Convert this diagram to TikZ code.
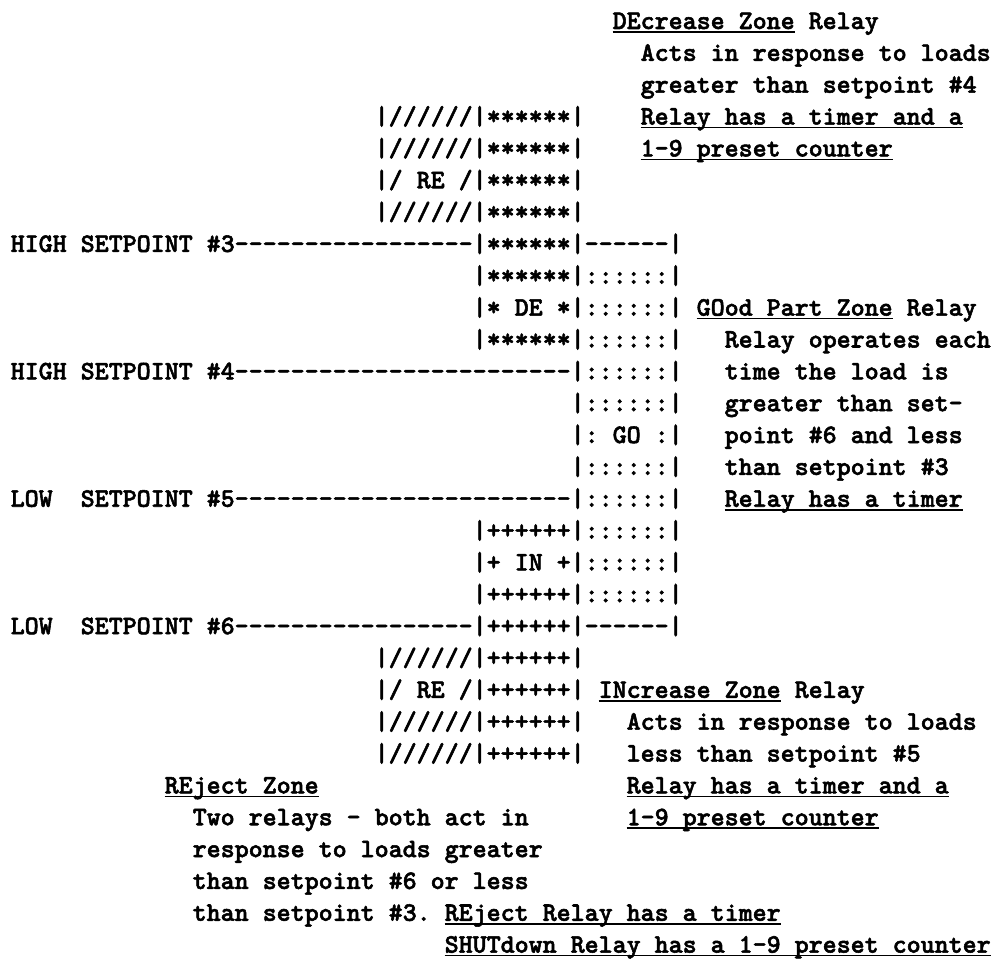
\documentclass[tikz,border=0pt]{standalone}
\newlength\charw
\newcommand\dashrun[1]{\foreach\i in {1,...,#1}{-\kern0pt}}
\newcommand\putline[4]{\node[txt] (#1) at ({10.7+14*(#2)},{931-31.85*(#3-1)}) {#4};}
\newcommand\putul[4]{\putline{#1}{#2}{#3}{#4}\draw[ulin] ([yshift=-3pt]#1.base west) -- ([yshift=-3pt]#1.base east);}
\begin{document}
\font\ttbten="[lmmonolt10-bold]" at 10pt
\settowidth\charw{\ttbten M}%
\pgfmathsetmacro\fs{140/\charw}%
\font\ttbig="[lmmonolt10-bold]:embolden=2" at \fs pt
\begin{tikzpicture}[x=1pt,y=1pt]
\tikzset{
  txt/.style={inner sep=0pt, outer sep=0pt, anchor=base west,
    font=\ttbig\frenchspacing},
  ulin/.style={line width=1.6pt, black}
}
\fill[white] (0,0) rectangle (995,960);
\useasboundingbox (0,0) rectangle (995,960);
% DEcrease block
\putul{deZone}{43}{1}{DEcrease Zone}
\putline{deRel}{57}{1}{Relay}
\putline{deA}{45}{2}{Acts in response to loads}
\putline{deB}{45}{3}{greater than setpoint \#4}
\putline{box4}{26}{4}{|//////|******|}
\putul{deC}{45}{4}{Relay has a timer and a}
\putline{box5}{26}{5}{|//////|******|}
\putul{deD}{45}{5}{1-9 preset counter}
\putline{box6}{26}{6}{|/ RE /|******|}
\putline{box7}{26}{7}{|//////|******|}
% setpoint 3
\putline{sp3}{0}{8}{HIGH SETPOINT \#3\dashrun{17}|******|\dashrun{6}|}
\putline{box9}{33}{9}{|******|::::::|}
\putline{box10}{33}{10}{|* DE *|::::::|}
\putul{goZone}{49}{10}{GOod Part Zone}
\putline{goRel}{64}{10}{Relay}
\putline{box11}{33}{11}{|******|::::::|}
\putline{goA}{51}{11}{Relay operates each}
% setpoint 4
\putline{sp4}{0}{12}{HIGH SETPOINT \#4\dashrun{24}|::::::|}
\putline{goB}{51}{12}{time the load is}
\putline{box13}{40}{13}{|::::::|}
\putline{goC}{51}{13}{greater than set-}
\putline{box14}{40}{14}{|: GO :|}
\putline{goD}{51}{14}{point \#6 and less}
\putline{box15}{40}{15}{|::::::|}
\putline{goE}{51}{15}{than setpoint \#3}
% setpoint 5
\putline{sp5}{0}{16}{LOW\ \ SETPOINT \#5\dashrun{24}|::::::|}
\putul{goF}{51}{16}{Relay has a timer}
\putline{box17}{33}{17}{|++++++|::::::|}
\putline{box18}{33}{18}{|+ IN +|::::::|}
\putline{box19}{33}{19}{|++++++|::::::|}
% setpoint 6
\putline{sp6}{0}{20}{LOW\ \ SETPOINT \#6\dashrun{17}|++++++|\dashrun{6}|}
\putline{box21}{26}{21}{|//////|++++++|}
\putline{box22}{26}{22}{|/ RE /|++++++|}
\putul{inZone}{42}{22}{INcrease Zone}
\putline{inRel}{56}{22}{Relay}
\putline{box23}{26}{23}{|//////|++++++|}
\putline{inA}{44}{23}{Acts in response to loads}
\putline{box24}{26}{24}{|//////|++++++|}
\putline{inB}{44}{24}{less than setpoint \#5}
% REject block
\putul{reZone}{11}{25}{REject Zone}
\putul{inC}{44}{25}{Relay has a timer and a}
\putline{reA}{13}{26}{Two relays - both act in}
\putul{inD}{44}{26}{1-9 preset counter}
\putline{reB}{13}{27}{response to loads greater}
\putline{reC}{13}{28}{than setpoint \#6 or less}
\putline{reD}{13}{29}{than setpoint \#3.}
\putul{reE}{31}{29}{REject Relay has a timer}
\putul{reF}{31}{30}{SHUTdown Relay has a 1-9 preset counter}
\end{tikzpicture}
\end{document}
